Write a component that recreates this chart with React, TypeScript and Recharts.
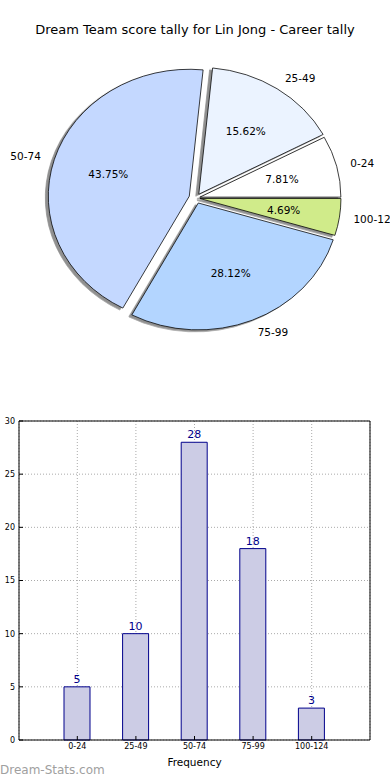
import React from 'react';
import {
  PieChart, Pie, Cell, BarChart, Bar, XAxis, YAxis,
  CartesianGrid, LabelList, Label
} from 'recharts';

const categories = ['0-24', '25-49', '50-74', '75-99', '100-124'];
const tallies = [5, 10, 28, 18, 3];
const sliceColors = ['#FFFFFF', '#EBF3FF', '#C4D8FF', '#B3D5FF', '#D0EB8A'];
const explode = [4, 5, 7, 6, 4];
const yTicks = [0, 5, 10, 15, 20, 25, 30];

const FONT = '"DejaVu Sans", sans-serif';
const CX = 196;
const CY = 198;
const R = 141;
const SQUASH = 0.9; // matplotlib pie drawn without axis('equal')

const pieData = categories.map((name, i) => ({ name, value: tallies[i] }));
const barData = categories.map((name, i) => ({ name, tally: tallies[i] }));
const total = tallies.reduce((a, b) => a + b, 0);

const midAngle = (i: number) => {
  const before = tallies.slice(0, i).reduce((a, b) => a + b, 0);
  return ((before + tallies[i] / 2) / total) * 360;
};

// python style '%1.2f' (round half to even)
const pct = (v: number) => {
  const x = (v / total) * 10000;
  const f = Math.floor(x);
  const d = x - f;
  const r = d > 0.5 ? f + 1 : d < 0.5 ? f : f % 2 === 0 ? f : f + 1;
  return (r / 100).toFixed(2) + '%';
};

const renderPieLabel = (props: any) => {
  const { cx, cy, midAngle: mid, outerRadius, index } = props;
  const rad = (mid * Math.PI) / 180;
  const cos = Math.cos(rad);
  const sin = Math.sin(rad);
  const ox = cx + explode[index] * cos;
  const oy = cy - explode[index] * sin * SQUASH;
  return (
    <g>
      <text
        x={ox + 1.1 * outerRadius * cos}
        y={oy - 1.1 * outerRadius * sin * SQUASH}
        textAnchor={cos >= 0 ? 'start' : 'end'}
        dominantBaseline="central"
        fontSize={10.5}
        fontFamily={FONT}
        fill="#000"
      >
        {categories[index]}
      </text>
      <text
        x={ox + 0.6 * outerRadius * cos}
        y={oy - 0.6 * outerRadius * sin * SQUASH}
        textAnchor="middle"
        dominantBaseline="central"
        fontSize={10.5}
        fontFamily={FONT}
        fill="#000"
      >
        {pct(tallies[index])}
      </text>
    </g>
  );
};

const css = `
body { margin: 0; }
.pie-main path.recharts-sector {
  transform: scaleY(${SQUASH});
  transform-origin: ${CX}px ${CY}px;
  filter: drop-shadow(-3px 2.8px 0 #909090);
}
`;

const TallyPie = () => (
  <PieChart width={390} height={370} margin={{ top: 0, right: 0, bottom: 0, left: 0 }} className="pie-main">
    {categories.map((_, i) => {
      const rad = (midAngle(i) * Math.PI) / 180;
      return (
        <Pie
          key={`slice-${i}`}
          data={pieData}
          dataKey="value"
          cx={CX + explode[i] * Math.cos(rad)}
          cy={CY - explode[i] * Math.sin(rad)}
          outerRadius={R}
          startAngle={0}
          endAngle={360}
          isAnimationActive={false}
        >
          {pieData.map((entry, j) => (
            <Cell
              key={`cell-${i}-${j}`}
              fill={j === i ? sliceColors[j] : 'none'}
              stroke={j === i ? '#000' : 'none'}
              strokeWidth={0.8}
            />
          ))}
        </Pie>
      );
    })}
    <Pie
      data={pieData}
      dataKey="value"
      cx={CX}
      cy={CY}
      outerRadius={R}
      startAngle={0}
      endAngle={360}
      fill="none"
      stroke="none"
      label={renderPieLabel}
      labelLine={false}
      isAnimationActive={false}
    />
  </PieChart>
);

const TallyBars = () => (
  <BarChart
    width={390}
    height={380}
    data={barData}
    margin={{ top: 20, right: 19, left: 0, bottom: 0 }}
  >
    <CartesianGrid stroke="#aaa" strokeDasharray="1 2" />
    <XAxis
      dataKey="name"
      height={40}
      padding={{ left: 29, right: 29 }}
      tickSize={-4}
      tickMargin={7}
      tickLine={{ stroke: '#000' }}
      axisLine={{ stroke: '#000' }}
      tick={{ fontSize: 8, fontFamily: FONT, fill: '#000' }}
      interval={0}
    >
      <Label value="Frequency" position="insideBottom" offset={14} fontSize={10.5} fontFamily={FONT} fill="#000" />
    </XAxis>
    <XAxis
      xAxisId="top"
      dataKey="name"
      orientation="top"
      height={1}
      padding={{ left: 29, right: 29 }}
      tick={false}
      tickSize={-4}
      tickLine={{ stroke: '#000' }}
      axisLine={{ stroke: '#000' }}
      interval={0}
    />
    <YAxis
      width={19}
      domain={[0, 30]}
      ticks={yTicks}
      tickSize={-4}
      tickMargin={8}
      tickLine={{ stroke: '#000' }}
      axisLine={{ stroke: '#000' }}
      tick={{ fontSize: 8, fontFamily: FONT, fill: '#000' }}
    >
      <Label
        value="Score Interval"
        angle={-90}
        position="insideLeft"
        offset={-6}
        fontSize={10.5}
        fontFamily={FONT}
        fill="#000"
        style={{ textAnchor: 'middle' }}
      />
    </YAxis>
    <YAxis
      yAxisId="right"
      orientation="right"
      width={1}
      domain={[0, 30]}
      ticks={yTicks}
      tick={false}
      tickSize={-4}
      tickLine={{ stroke: '#000' }}
      axisLine={{ stroke: '#000' }}
    />
    <Bar dataKey="tally" barSize={26} fill="#CCCCE5" stroke="#00008B" strokeWidth={1} isAnimationActive={false}>
      <LabelList dataKey="tally" position="top" offset={4} fontSize={11} fontFamily={FONT} fill="#00008B" />
    </Bar>
  </BarChart>
);

export default function App() {
  return (
    <div style={{ position: 'relative', width: 390, height: 780, background: '#fff', overflow: 'hidden', fontFamily: FONT }}>
      <style>{css}</style>
      <div style={{ position: 'absolute', top: 22, left: 0, width: 390, textAlign: 'center', fontSize: 13, lineHeight: '16px', color: '#000' }}>
        Dream Team score tally for Lin Jong - Career tally
      </div>
      <div style={{ position: 'absolute', top: 0, left: 0 }}>
        <TallyPie />
      </div>
      <div style={{ position: 'absolute', top: 400, left: 0 }}>
        <TallyBars />
      </div>
      <div style={{ position: 'absolute', top: 762, left: 0, fontSize: 12, lineHeight: '16px', color: '#a0a0a0' }}>
        Dream-Stats.com
      </div>
    </div>
  );
}
